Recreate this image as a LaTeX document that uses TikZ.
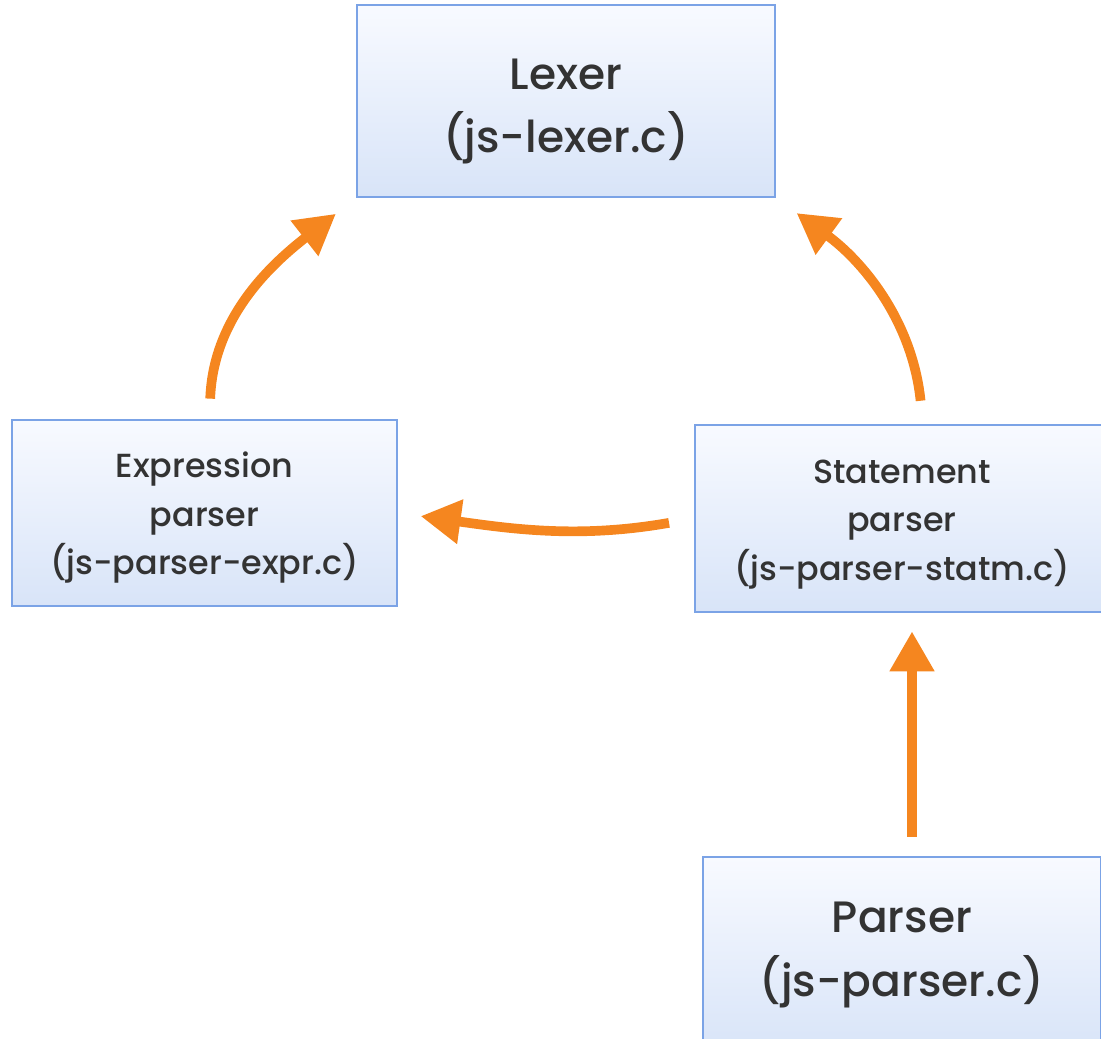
\documentclass[tikz,border=0pt]{standalone}
\usepackage{fontspec}
\setmainfont{Poppins}[UprightFont={* Medium}]
\usepackage{xcolor}
\usetikzlibrary{arrows.meta}
\definecolor{boxline}{HTML}{7BA3E6}
\definecolor{boxtop}{HTML}{F8FAFF}
\definecolor{boxbottom}{HTML}{D8E4F8}
\definecolor{arroworange}{HTML}{F5861F}
\definecolor{textgray}{HTML}{333333}
\newcommand{\bigtop}{\rule{0pt}{29pt}}
\newcommand{\smalltop}{\rule{0pt}{20pt}}

\begin{document}
\begin{tikzpicture}[
    x=0.02cm, y=-0.02cm,
    module/.style={
        rectangle, draw=boxline, line width=1.6pt,
        top color=boxtop, bottom color=boxbottom, text=textgray,
        align=center, inner sep=0pt
    },
    bigmodule/.style={
        module, font=\fontsize{25}{36}\selectfont
    },
    smallmodule/.style={
        module, font=\fontsize{19}{27.5}\selectfont
    },
    flow/.style={
        draw=arroworange, line width=5.5pt,
        -{Triangle[length=0.8cm,width=0.85cm]}
    }
]

\useasboundingbox (0,0) rectangle (1101,1038);
\clip (0,0) rectangle (1101,1038);

\node[bigmodule, minimum width=8.36cm, minimum height=3.84cm] (lexer) at (566,101)
    {\bigtop Lexer\\(js-lexer.c)};
\node[smallmodule, minimum width=7.7cm, minimum height=3.72cm] (expr) at (204.5,513)
    {\smalltop Expression\\parser\\(js-parser-expr.c)};
\node[smallmodule, minimum width=8.28cm, minimum height=3.74cm] (statm) at (902,518.5)
    {\smalltop Statement\\parser\\(js-parser-statm.c)};
\node[bigmodule, minimum width=7.96cm, minimum height=3.92cm] (parser) at (902,955)
    {Parser\\(js-parser.c)};

% calls between the modules
\draw[flow, shorten <=0.4cm, shorten >=0.5cm]
    ([xshift=0.1cm]expr.north) to[out=88, in=218] (lexer.south west);
\draw[flow, shorten <=0.46cm, shorten >=0.5cm]
    ([xshift=0.42cm]statm.north) to[out=96, in=-36] (lexer.south east);
\draw[flow, shorten <=0.5cm, shorten >=0.45cm]
    (statm.west) to[out=190, in=-8] (expr.east);
\draw[flow, shorten <=0.38cm, shorten >=0.36cm]
    ([xshift=0.2cm]parser.north) -- ([xshift=0.2cm]statm.south);

\end{tikzpicture}
\end{document}
